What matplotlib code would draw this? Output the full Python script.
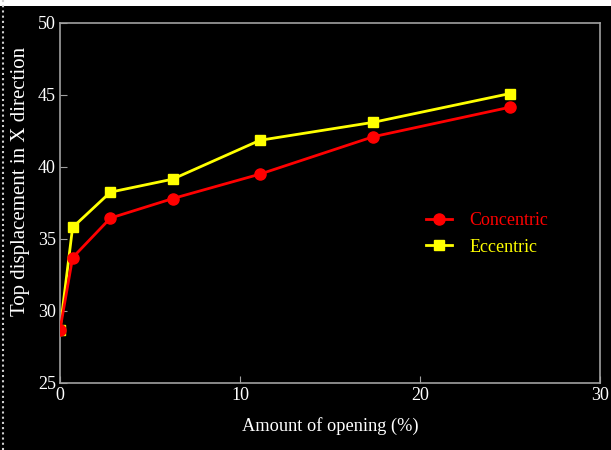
import matplotlib.pyplot as plt
from matplotlib.patches import Rectangle
from matplotlib.lines import Line2D

opening = [0, 0.7, 2.8, 6.25, 11.1, 17.4, 25]
concentric = [28.7, 33.7, 36.45, 37.8, 39.5, 42.1, 44.15]
eccentric = [28.7, 35.8, 38.25, 39.15, 41.85, 43.1, 45.1]

plt.rcParams['font.family'] = ['Liberation Serif', 'DejaVu Serif']

fig = plt.figure(figsize=(6.11, 4.5), dpi=100, facecolor='black')
ax = fig.add_axes([0.0982, 0.149, 0.884, 0.800], facecolor='black')

ax.plot(opening, eccentric, color='yellow', lw=2, marker='s', ms=7, label='Eccentric', zorder=2)
ax.plot(opening, concentric, color='red', lw=2, marker='o', ms=8, label='Concentric', zorder=3)

ax.set_xlim(0, 30)
ax.set_ylim(25, 50)
ax.set_xticks([0, 10, 20, 30])
ax.set_yticks([25, 30, 35, 40, 45, 50])
for s in ax.spines.values():
    s.set_color('#a0a0a0')
    s.set_linewidth(1.2)
ax.tick_params(direction='in', colors='#a0a0a0', labelcolor='white', labelsize=13, length=5, pad=3)
ax.set_xlabel('Amount of opening (%)', color='white', fontsize=13.2, labelpad=9)
ax.set_ylabel('Top displacement in X direction', color='white', fontsize=15)
ax.yaxis.set_label_coords(-0.056, 0.56)

h, l = ax.get_legend_handles_labels()
leg = ax.legend(h[::-1], l[::-1], loc='center left', bbox_to_anchor=(0.648, 0.414), frameon=False,
                fontsize=13, handlelength=1.45, handletextpad=0.95, labelspacing=0.52)
for txt, c in zip(leg.get_texts(), ['red', 'yellow']):
    txt.set_color(c)

# white strip of the page above the figure, dotted page border at left
fig.patches.append(Rectangle((0, 1 - 6 / 450), 1, 6 / 450, transform=fig.transFigure,
                             facecolor='white', edgecolor='none'))
fig.lines.append(Line2D([3 / 611, 3 / 611], [0, 1], transform=fig.transFigure,
                        color='#d0d0d0', lw=1.5, ls=(0, (1, 1.5))))

fig.savefig('out.png', dpi=100, facecolor='black')
